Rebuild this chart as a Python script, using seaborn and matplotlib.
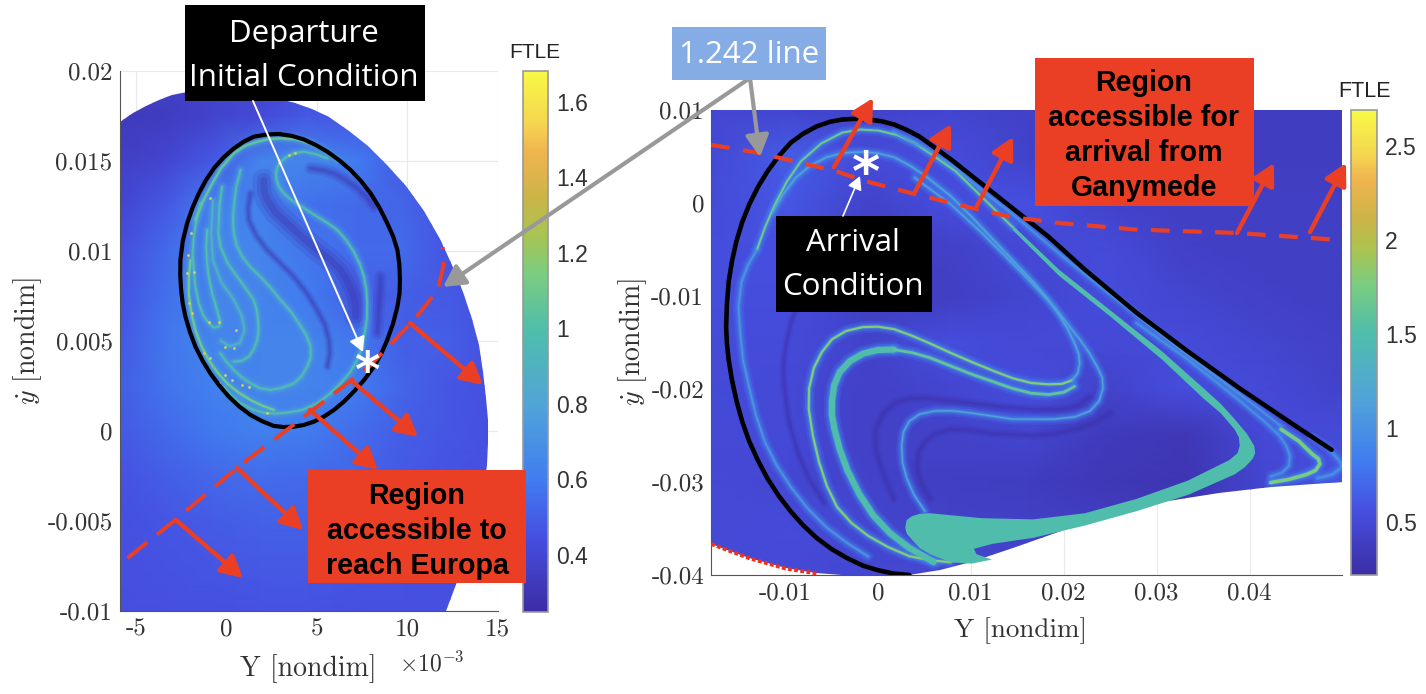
import numpy as np
import seaborn as sns
import matplotlib
matplotlib.use('Agg')
import matplotlib.pyplot as plt
from matplotlib.colors import LinearSegmentedColormap, Normalize
from matplotlib.patches import Polygon, Rectangle

# all curve values are in units of 1e-3 of the axis quantity
# ---- left panel ----
left_grid_x = [-5.92, -3.3, -0.7, 1.9, 4.5, 7.2, 9.8, 12.4, 15.0]
left_grid_y = [20, 17.5, 15, 12.5, 10, 7.5, 5, 2.5, 0, -2.5, -5, -7.5, -10]
left_field = [
    [.36, .36, .38, .40, .42, .42, .42, .42, .42],
    [.33, .34, .38, .42, .48, .46, .44, .44, .44],
    [.36, .40, .48, .64, .64, .60, .48, .44, .44],
    [.40, .48, .62, .62, .56, .54, .52, .46, .44],
    [.44, .54, .64, .64, .58, .54, .54, .46, .44],
    [.46, .56, .64, .64, .60, .50, .50, .48, .44],
    [.48, .58, .64, .64, .64, .58, .50, .50, .44],
    [.50, .57, .62, .64, .64, .60, .52, .47, .45],
    [.48, .54, .59, .62, .60, .55, .50, .47, .45],
    [.46, .50, .53, .55, .54, .52, .48, .46, .45],
    [.45, .47, .49, .51, .51, .49, .47, .46, .45],
    [.45, .46, .47, .48, .48, .47, .46, .45, .45],
    [.44, .45, .45, .46, .46, .45, .45, .45, .45],
]
left_domain_x = [-5.92, -5.92, -5.2, -4.47, -3.75, -2.99, -2.2, -1.4, -.6, .19, 1.15, 2.1, 2.95, 3.79, 4.75, 5.7, 6.8, 7.82, 8.9, 9.94, 10.93, 11.84, 12.5, 13.11, 13.58, 13.96, 14.2, 14.39, 14.48, 14.49, 14.42, 14.28, 13.96, 13.54, 12.92, 12.16, -5.92]
left_domain_y = [-10, 17.17, 17.65, 18.08, 18.4, 18.65, 18.82, 18.9, 18.93, 18.9, 18.82, 18.65, 18.47, 18.23, 17.88, 17.42, 16.68, 15.82, 14.78, 13.61, 12.2, 10.66, 9.2, 7.71, 6.25, 4.77, 3.3, 1.82, .6, -.64, -1.87, -3.1, -4.55, -6.04, -7.95, -10, -10]

left_orbit_x = [2.9, 2.2, 1.51, .95, .41, -.16, -.7, -1.14, -1.53, -1.88, -2.18, -2.42, -2.55, -2.56, -2.51, -2.42, -2.27, -2.02, -1.72, -1.33, -.89, -.4, .13, .71, 1.33, 1.96, 2.62, 3.17, 3.73, 4.3, 4.84, 5.41, 5.95, 6.52, 7.05, 7.63, 8.16, 8.57, 8.9, 9.22, 9.46, 9.58, 9.6, 9.57, 9.46, 9.22, 8.9, 8.47, 7.98, 7.45, 6.87, 6.24, 5.58, 4.94, 4.28, 3.6, 2.9]
left_orbit_y = [16.5, 16.47, 16.35, 16.07, 15.7, 15.2, 14.59, 13.93, 13.2, 12.4, 11.54, 10.54, 9.5, 8.66, 7.83, 7.08, 6.35, 5.5, 4.69, 3.92, 3.2, 2.53, 1.91, 1.36, .89, .55, .28, .22, .24, .34, .52, .81, 1.17, 1.65, 2.19, 2.85, 3.57, 4.3, 5.06, 5.97, 6.91, 7.65, 8.39, 9.24, 10.06, 10.82, 11.54, 12.4, 13.2, 13.88, 14.5, 15.04, 15.52, 15.89, 16.2, 16.4, 16.5]

left_ridges = [
    # x, y, FTLE value, core width
    ([5.58, 4.95, 4.28, 3.8, 3.36, 3.04, 2.84, 2.74, 2.77, 2.92, 3.18, 3.55, 4.01, 4.5, 5.02, 5.6, 6.13, 6.63, 7.05, 7.37, 7.61, 7.74, 7.79, 7.77, 7.65, 7.5, 7.24, 6.83, 6.32, 5.7, 5.02, 4.22, 3.36, 2.7, 2.07, 1.4, .78, .28, -.15],
     [15.15, 15.38, 15.52, 15.45, 15.24, 15.0, 14.69, 14.3, 13.94, 13.55, 13.2, 12.87, 12.56, 12.24, 11.91, 11.55, 11.17, 10.6, 9.96, 9.3, 8.57, 7.85, 7.09, 6.25, 5.43, 4.66, 3.94, 3.25, 2.65, 2.05, 1.54, 1.18, 1.02, .97, 1.02, 1.22, 1.54, 1.95, 2.46], .98, 1.4),
    ([.78, .53, .41, .36, .41, .57, .87, 1.33, 1.88, 2.45, 2.99, 3.55, 4.01, 4.42, 4.65, 4.66, 4.47, 4.15, 3.73, 3.1, 2.44, 1.85, 1.33, .85, .41, 0, -.33],
     [14.5, 13.5, 12.46, 11.7, 10.98, 10.3, 9.69, 9.1, 8.57, 7.95, 7.28, 6.65, 5.98, 5.33, 4.69, 4.1, 3.57, 3.03, 2.65, 2.4, 2.28, 2.38, 2.65, 2.98, 3.39, 3.85, 4.31], .95, 1.5),
    ([-.24, -.38, -.42, -.45, -.33, .05, .59, 1.05, 1.51, 1.68, 1.74, 1.78, 1.7, 1.52, 1.24, .85, .41],
     [13.57, 12.6, 11.72, 11, 10.24, 9.35, 8.57, 7.95, 7.28, 6.72, 6.17, 5.6, 5.06, 4.55, 4.13, 3.9, 3.85], .98, 1.4),
    ([-1.44, -1.66, -1.81, -1.88, -1.81, -1.72, -1.53, -1.3, -.98, -.7, -.42, -.33, -.42, -.6, -.79, -.97, -1.07, -1.12, -1.07],
     [12.65, 11.7, 10.8, 9.85, 8.94, 8, 7.09, 6.45, 5.98, 5.75, 5.8, 6.05, 6.35, 7, 7.65, 8.5, 9.31, 10.25, 11.17], 1.0, 1.3),
    ([-.75, -.85, -.75, -.3, .4, .85, 1.0, .75, .2, -.3],
     [12.8, 11, 9.5, 8.3, 7.3, 6.4, 5.6, 4.9, 4.7, 5], .9, 1.1),
    ([-1.99, -2.08, -2.09, -1.95, -1.72, -1.4, -.98, -.5, .04, .65, 1.33, 2, 2.62],
     [9.5, 8.55, 7.65, 6.6, 5.61, 4.75, 3.94, 3.25, 2.65, 2.15, 1.72, 1.4, 1.17], 1.1, 1.6),
    ([-1.72, -1.33, -.89, -.3, .41, 1.05, 1.7, 2.35, 2.99, 3.85, 4.65, 5.4, 6.13],
     [11.72, 12.7, 13.57, 14.6, 15.43, 15.85, 16.07, 16.22, 16.26, 16.2, 15.98, 15.6, 15.06], 1.05, 1.6),
]
left_dark = [
    ([4.65, 5.3, 5.95, 6.6, 7.24, 7.75, 8.16], [14.59, 14.5, 14.31, 13.95, 13.48, 13, 12.46], 3.0),
    ([2.07, 2.08, 2.25, 2.7, 3.36, 4.15, 5.02, 5.7, 6.32, 6.75, 7.05, 7.15, 7.15], [13.94, 13.35, 12.83, 12.15, 11.54, 10.8, 10.06, 9.55, 8.94, 8.2, 7.46, 6.9, 6.35], 6),
    ([1.33, 1.2, 1.24, 1.65, 2.25, 2.95, 3.73, 4.45, 5.02, 5.45, 5.67, 5.72, 5.58], [13.2, 12.4, 11.72, 10.85, 10.06, 9.35, 8.57, 7.65, 6.72, 5.9, 5.06, 4.3, 3.57], 2.0),
    ([8.53, 8.5, 8.44, 8.35], [8.57, 7.7, 6.91, 5.43], 3),
]
left_speck_x = [-.89, -1.99, -2.18, -2.09, -1.9, -.98, -.42, .5, .41, -.06, -.89, -.06, .31, 1.24, .87, -.42, 2.25, 3.45, 3.82, 2.9, -2.14, -1.77, -1.26]
left_speck_y = [12.93, 10.98, 8.76, 7.09, 6.54, 6.07, 6.07, 5.61, 4.59, 4.69, 4.04, 3.11, 2.83, 2.46, 2.56, 2.65, 1.02, 15.33, 15.43, 14.87, 9.78, 8.85, 4.31]
left_boundary_x = [-5.48, -2.83, .78, 4.65, 7.98, 10.47, 11.69, 12.02, 11.97]
left_boundary_y = [-7.06, -4.94, -1.89, 1.06, 3.67, 6.28, 7.83, 9.22, 10.22]

left_xticks = [-5, 0, 5, 10, 15]
left_xlabels = ['-5', '0', '5', '10', '15']
left_yticks = [-10, -5, 0, 5, 10, 15, 20]
left_ylabels = ['-0.01', '-0.005', '0', '0.005', '0.01', '0.015', '0.02']
left_cbar_ticks = [.4, .6, .8, 1, 1.2, 1.4, 1.6]
left_cbar_labels = ['0.4', '0.6', '0.8', '1', '1.2', '1.4', '1.6']

# ---- right panel ----
right_grid_x = [-18, -9.5, -1, 7.5, 16, 24.5, 33, 41.5, 50]
right_grid_y = [10, 5, 0, -5, -10, -15, -20, -25, -30, -35, -40]
right_field = [
    [.48, .46, .44, .46, .42, .40, .38, .38, .38],
    [.50, .64, .52, .54, .44, .40, .38, .38, .38],
    [.52, .60, .44, .54, .56, .44, .40, .40, .40],
    [.54, .56, .42, .42, .50, .52, .42, .40, .40],
    [.54, .54, .40, .40, .46, .54, .46, .42, .40],
    [.52, .52, .44, .54, .50, .50, .52, .46, .42],
    [.52, .50, .42, .46, .54, .44, .54, .50, .44],
    [.50, .50, .42, .44, .46, .36, .32, .50, .52],
    [.50, .48, .44, .40, .38, .33, .30, .46, .60],
    [.50, .52, .46, .44, .42, .40, .38, .44, .50],
    [.50, .50, .48, .48, .46, .46, .46, .46, .46],
]
right_domain_x = [-17.96, -17.94, -13.83, -9.94, -6.61, -3.83, 3.39, 6.72, 10.06, 14.5, 20.06, 25.61, 28.4, 31.17, 36.72, 42.28, 50, 50, -17.96]
right_domain_y = [10, -36.66, -38.2, -39.3, -39.83, -40, -40, -39.5, -38.64, -37.1, -35.12, -33.36, -32.6, -32.04, -31.16, -30.5, -29.97, 10, 10]

right_orbit_x = [3.39, 1.7, .06, -1.6, -3.28, -5.0, -6.61, -8.05, -9.39, -10.7, -11.89, -12.9, -13.83, -14.6, -15.22, -15.7, -16.06, -16.25, -16.33, -16.25, -16.06, -15.7, -15.22, -14.6, -13.83, -12.92, -11.89, -10.7, -9.39, -8.05, -6.61, -5.2, -3.83, -2.45, -1.06, .35, 1.72, 3.12, 4.5, 7.83, 11.17, 14.5, 18.39, 22.28, 27.83, 33.39, 38.94, 44.5, 48.83]
right_orbit_y = [-40, -39.85, -39.5, -39.0, -38.2, -37.2, -36, -34.65, -33.15, -31.45, -29.6, -27.7, -25.66, -23.5, -21.26, -19.05, -16.86, -15.1, -13.34, -10.9, -8.49, -6.25, -4.09, -2.05, -.13, 1.7, 3.39, 5.0, 6.47, 7.45, 8.23, 8.72, 8.98, 9.05, 8.98, 8.8, 8.45, 7.85, 7.13, 4.71, 2.07, -.57, -3.65, -7.17, -11.8, -15.98, -19.94, -23.68, -26.54]

right_band_x = [14.5, 19.5, 25.06, 30.61, 35.06, 36.9, 38.39, 39.7, 40.5, 40.6, 40.33, 39.5, 38.39, 33.39, 27.83, 22.28, 16.72, 12.28, 10.33, 10.61, 12.28, 10.06, 7.83, 5.61, 4.5, 3.67, 3.1, 2.94, 3.1, 3.67, 4.5, 5.61, 11.17, 16.72, 22.28, 27.83, 33.39, 37.83, 38.7, 38.94, 38.85, 38.39, 36.9, 35.06, 30.61, 25.06, 19.5, 14.5]
right_band_y = [-2.4, -7.17, -11.58, -15.98, -19.94, -21.6, -23.24, -24.8, -26.1, -26.9, -27.51, -28.4, -29.18, -31.38, -33.14, -34.68, -36, -36.66, -37.19, -37.76, -38.34, -38.78, -38.64, -37.76, -37.1, -36.22, -35.55, -34.9, -34.1, -33.67, -33.42, -33.36, -33.89, -34.02, -33.36, -31.82, -29.84, -27.64, -26.9, -26.1, -25.2, -24.34, -22.6, -21.04, -16.86, -12.24, -7.83, -2.9]

right_ridges = [
    # top green ridge, runs into the thick band
    ([-13, -12.1, -11.06, -9.8, -8.28, -6.1, -3.83, -1.9, .06, 2.1, 3.94, 6.1, 8.39, 11.4, 14.5],
     [-4.97, -2.5, -.13, 2.3, 4.49, 6.4, 7.57, 7.9, 7.79, 7.3, 6.47, 5.0, 3.39, .45, -2.6], 1.7, 1.4),
    # thin ridge just inside the black curve
    ([1.72, 5, 8.39, 11.4, 14.5, 20.06, 25.61, 31.17, 36.72, 40.2, 43.39],
     [7.6, 5.9, 3.7, 1.2, -1.2, -5.9, -10.3, -14.7, -18.9, -21.5, -24.0], 1.0, .9),
    # green at the tip
    ([43.39, 45.3, 46.72, 47.4, 47.56, 47.1, 46.17, 44.3, 42.28],
     [-24.34, -25.6, -26.98, -27.5, -28.08, -28.75, -29.18, -29.7, -30.06], 1.75, 2.6),
    ([-13, -14, -14.67, -15, -14.83, -14.5, -13.83, -13.1, -12.17, -10.9, -9.39, -7.6, -5.5, -3.4, -1.06],
     [-4.97, -6.7, -8.49, -11.1, -13.78, -16.9, -19.94, -22.9, -25.66, -28.2, -30.5, -32.8, -34.9, -36.5, -38], 1.05, .9),
    ([7.83, 5.6, 3.39, 1.1, -1.06, -2.85, -4.39, -5.5, -6.33, -7, -7.44, -7.4, -6.89, -6.05, -4.94, -3.4, -1.61, 0, 1.72, 3.6, 5.61, 7.8, 10.06, 12.3, 14.5, 16.5, 18.39, 19.8, 20.89],
     [-38.64, -38.4, -37.98, -37, -35.78, -34.4, -32.7, -30.4, -27.86, -25, -22.14, -19.9, -17.74, -16.05, -14.66, -13.75, -13.34, -13.3, -13.56, -14.25, -15.1, -16.1, -17.08, -18, -18.84, -19.35, -19.5, -19.45, -19.06], 1.8, 1.6),
    ([20.89, 21.5, 21.72, 21.6, 21.17, 20.4, 19.5, 18.2, 16.72, 13.39, 10.06, 7.83, 5.06, 3.4, 1.72, 0, -1.61, -3.6, -5.5, -7.3, -8.83, -10.2, -11.33],
     [-19.06, -18.3, -17.3, -16.2, -15.1, -13.5, -12.02, -10.2, -8.49, -4.97, -1.45, .75, 2.95, 4.05, 4.93, 5.35, 5.5, 5.4, 4.93, 4, 2.73, .95, -1.01], 1.15, 1.1),
    ([6, 3.39, 1.3, -.5, -2, -3.28, -4.1, -4.67, -4.95, -4.94, -4.7, -4.11, -3, -1.61, 0, 1.72],
     [-38.6, -37.1, -35.5, -33.58, -31.3, -28.74, -26.5, -24.34, -22.8, -21.26, -19.6, -18.18, -17, -16.2, -15.8, -15.76], 1.5, 4.4),
    ([1.72, 3.7, 5.61, 10.06, 14.5, 16.5, 18.39, 20, 21.17],
     [-15.76, -16.1, -16.64, -18.4, -19.94, -20.45, -20.6, -20.35, -19.72], 1.6, 2.0),
    ([5.06, 3.9, 3.11, 2.65, 2.56, 2.75, 3.39, 4.5, 6.17, 8.1, 10.06, 14.5, 18.94, 21.2, 22.83, 23.8, 24.22, 24.15, 23.67, 22.8, 21.72, 18.94, 15.61, 11.17, 7.83, 3.94],
     [-33.14, -31.4, -29.62, -27.9, -26.1, -24.6, -23.46, -22.7, -22.36, -22.35, -22.58, -23.24, -23.24, -23, -22.36, -21.3, -19.94, -18.8, -17.74, -16.2, -14.66, -11.14, -7.61, -3.21, -.13, 2.73], 1.15, 1.0),
    ([27.83, 33.39, 38.94, 41.6, 43.2, 43.94, 44.35, 44.22, 43.5, 42.28],
     [-12.9, -16.86, -21.26, -23.5, -25, -26.1, -27.2, -28.3, -29, -29.4], 1.0, .9),
    ([46.72, 48.4, 49.61, 49.9, 49.78, 48.9, 47.28],
     [-25.2, -26.3, -27.64, -28.1, -28.52, -29.2, -29.6], 1.0, 1.1),
]
right_dark = [
    ([5.61, 4.6, 4.22, 4.4, 5.06, 6.2, 7.83, 10, 12.28, 16.72, 19.1, 21.17, 23.3, 25.06], [-31.82, -30, -28.3, -26.8, -25.66, -24.8, -24.34, -24.45, -24.78, -25, -24.8, -24.34, -23.6, -22.58], 2.2),
    ([1.72, .6, -.22, -.25, .61, 1.8, 3.39, 5.5, 7.83, 13.39, 17, 20.06, 21.7, 22.83], [-31.82, -29.2, -26.54, -24.4, -22.58, -21.5, -21.04, -21, -21.26, -21.92, -22.2, -22.14, -21.7, -20.82], 2.2),
    ([-5.78, -7.4, -8.56, -9.6, -10.06, -10.2, -9.94, -9.4, -8.56], [-32.26, -29.7, -26.98, -23.4, -19.94, -17.7, -15.54, -13, -10.7], 1.8),
]
right_boundary_x = [-17.94, -12.72, -8.56, -4.67, -1.61, 3.94, 10.61, 14.5, 20.06, 27.83, 38.39, 49.5]
right_boundary_y = [6.25, 5.37, 4.36, 3.48, 2.42, .97, -.66, -1.54, -2.2, -2.86, -3.21, -3.96]
right_edge_x = [-17.94, -13.83, -9.94, -6.61]
right_edge_y = [-36.66, -38.2, -39.3, -39.83]

right_xticks = [-10, 0, 10, 20, 30, 40]
right_xlabels = ['-0.01', '0', '0.01', '0.02', '0.03', '0.04']
right_yticks = [-40, -30, -20, -10, 0, 10]
right_ylabels = ['-0.04', '-0.03', '-0.02', '-0.01', '0', '0.01']
right_cbar_ticks = [.5, 1, 1.5, 2, 2.5]
right_cbar_labels = ['0.5', '1', '1.5', '2', '2.5']

# annotation arrows, figure pixels: x0, y0, x1, y1
left_arrows = [(176, 520, 243, 578), (237, 468, 303, 530), (310, 410, 378, 470), (353, 382, 418, 437), (410, 323, 483, 385)]
right_arrows = [(834, 167, 873, 98), (915, 192, 951, 124), (977, 206, 1013, 137), (1237, 233, 1274, 163), (1310, 232, 1346, 163)]

RED = '#ea3f24'
W, H = 1426, 694
# colours sampled from the reference colour bar
parula = LinearSegmentedColormap.from_list('parula_soft', [
    (0.0, '#3c2da5'), (0.14, '#4650e1'), (0.245, '#417df0'), (0.385, '#50a5d7'),
    (0.524, '#50beaa'), (0.63, '#7dcd7d'), (0.70, '#aac350'), (0.77, '#cdb446'),
    (0.852, '#f0b450'), (0.908, '#f5d750'), (1.0, '#f8f846')])

sns.set_theme(style='white')
plt.rcParams['mathtext.fontset'] = 'cm'
plt.rcParams['axes.unicode_minus'] = False
plt.rcParams['axes.formatter.use_mathtext'] = True


def px_axes(x0, y0, x1, y1):
    return fig.add_axes([x0 / W, 1 - y1 / H, (x1 - x0) / W, (y1 - y0) / H])


def line(ax, xs, ys, **kws):
    sns.lineplot(x=xs, y=ys, sort=False, estimator=None, errorbar=None, legend=False, ax=ax, **kws)


def panel(ax, cax, gx, gy, field, dom_x, dom_y, clim, ridges, dark, xlim, ylim, glow):
    norm = Normalize(*clim)
    ax.set_facecolor('white')
    ax.grid(True, color='#e9e9e9', lw=0.8)
    ax.set_axisbelow(True)
    mesh = ax.pcolormesh(gx, gy, np.array(field), cmap=parula, norm=norm, shading='gouraud', zorder=1.5)
    clip = Polygon(np.column_stack([dom_x, dom_y]), transform=ax.transData)
    mesh.set_clip_path(clip)
    before = len(ax.lines)
    dark_col = parula(norm(clim[0] + 0.03))
    for xs, ys, width in dark:
        line(ax, xs, ys, color=dark_col, linewidth=width * 2.6 + 1, alpha=0.16, zorder=2)
        line(ax, xs, ys, color=dark_col, linewidth=width * 1.6 + .5, alpha=0.22, zorder=2)
        line(ax, xs, ys, color=dark_col, linewidth=width * .8, alpha=0.3, zorder=2)
    for xs, ys, val, width in ridges:
        line(ax, xs, ys, color=parula(norm(glow)), linewidth=width + 7, alpha=0.22, zorder=2.2)
        line(ax, xs, ys, color=parula(norm(glow * 1.08)), linewidth=width + 4, alpha=0.32, zorder=2.3)
        line(ax, xs, ys, color=parula(norm(glow * 1.2)), linewidth=width + 1.5, alpha=0.5, zorder=2.4)
        line(ax, xs, ys, color=parula(norm(val)), linewidth=width, zorder=2.5)
    for ln in ax.lines[before:]:
        ln.set_clip_path(clip)
    ax.set_xlim(*xlim)
    ax.set_ylim(*ylim)
    for s in ['top', 'right']:
        ax.spines[s].set_visible(False)
    for s in ['left', 'bottom']:
        ax.spines[s].set_color('#555555')
        ax.spines[s].set_linewidth(0.8)
    ax.tick_params(direction='in', length=4, width=0.7, color='#666666', labelcolor='#333333', pad=5)
    cb = fig.colorbar(mesh, cax=cax)
    cb.outline.set_edgecolor('#999999')
    cb.outline.set_linewidth(1.2)
    cax.tick_params(direction='in', length=5, width=0.7, color='#555555', labelcolor='#333333', pad=6, labelsize=16.5)
    return norm


def tick_text(ax, xticks, xlabels, yticks, ylabels):
    ax.set_xticks(xticks)
    ax.set_xticklabels(xlabels, family='cmr10', fontsize=18)
    ax.set_yticks(yticks)
    ax.set_yticklabels(ylabels, family='cmr10', fontsize=18)


fig = plt.figure(figsize=(W / 100, H / 100), dpi=100, facecolor='white')

ax_l = px_axes(119.5, 71, 497.5, 611)
cax_l = px_axes(523, 71, 548, 612)
panel(ax_l, cax_l, left_grid_x, left_grid_y, left_field, left_domain_x, left_domain_y, (.249, 1.682),
      left_ridges, left_dark, (-5.92, 15), (-10, 20), 0.72)
tick_text(ax_l, left_xticks, left_xlabels, left_yticks, left_ylabels)
sns.scatterplot(x=left_speck_x, y=left_speck_y, color='#d9cf55', s=4, linewidth=0, legend=False, ax=ax_l, zorder=2.8)
line(ax_l, left_orbit_x, left_orbit_y, color='black', linewidth=3.0, zorder=3)
line(ax_l, left_boundary_x, left_boundary_y, color=RED, linewidth=2.8, linestyle=(0, (6.5, 3.2)), zorder=3.5)
cax_l.set_yticks(left_cbar_ticks, left_cbar_labels, family='Liberation Sans')
ax_l.set_xlabel('Y [nondim]', family='cmr10', fontsize=20, color='#333333')
ax_l.xaxis.set_label_coords(0.5, -0.08)
ax_l.set_ylabel(r'$\dot{y}$ [nondim]', family='cmr10', fontsize=20, color='#333333')
ax_l.yaxis.set_label_coords(-0.2, 0.5)

ax_r = px_axes(711, 110, 1342.5, 575)
cax_r = px_axes(1351, 110, 1377, 575)
norm_r = panel(ax_r, cax_r, right_grid_x, right_grid_y, right_field, right_domain_x, right_domain_y, (.218, 2.69),
               right_ridges, right_dark, (-17.96, 50), (-40, 10), 0.85)
tick_text(ax_r, right_xticks, right_xlabels, right_yticks, right_ylabels)
ax_r.fill(right_band_x, right_band_y, color=parula(norm_r(1.5)), zorder=2.6, lw=0)
line(ax_r, right_orbit_x, right_orbit_y, color='black', linewidth=3.3, zorder=3)
line(ax_r, right_boundary_x, right_boundary_y, color=RED, linewidth=3.0, linestyle=(0, (4.5, 3.2)), zorder=3.5)
line(ax_r, right_edge_x, right_edge_y, color='#f0301c', linewidth=2.8, linestyle=(0, (1, 0.6)), zorder=3.5)
cax_r.set_yticks(right_cbar_ticks, right_cbar_labels, family='Liberation Sans')
ax_r.set_xlabel('Y [nondim]', family='cmr10', fontsize=19.5, color='#333333')
ax_r.xaxis.set_label_coords(0.49, -0.09)
ax_r.set_ylabel(r'$\dot{y}$ [nondim]', family='cmr10', fontsize=20, color='#333333')
ax_r.yaxis.set_label_coords(-0.098, 0.5)

# overlay in figure pixels for the slide annotations
ov = fig.add_axes([0, 0, 1, 1], zorder=10)
ov.set_xlim(0, W)
ov.set_ylim(H, 0)
ov.axis('off')
ov.patch.set_alpha(0)


def box(x0, y0, x1, y1, color):
    ov.add_patch(Rectangle((x0, y0), x1 - x0, y1 - y0, color=color, lw=0, zorder=6))


def arrow(x0, y0, x1, y1, color, lw, head=14, z=5):
    ov.annotate('', xy=(x1, y1), xytext=(x0, y0), zorder=z,
                arrowprops=dict(arrowstyle=f'-|>,head_length={head / 14:.2f},head_width={head / 26:.2f}',
                                color=color, lw=lw, shrinkA=0, shrinkB=0, mutation_scale=14))


for a in left_arrows + right_arrows:
    arrow(*a, RED, 3.2, head=13)
arrow(750, 78, 443, 287, '#999999', 3, head=13)
arrow(750, 78, 760, 157, '#999999', 3, head=13)

box(185, 5, 425, 101, 'black')
box(308, 470, 526, 583, RED)
box(672, 27, 826, 80, '#86ace6')
box(1035, 58, 1254, 206, RED)
box(776, 216, 932, 312, 'black')

sans = 'Open Sans'
for txt, x, y in [('Departure', 304, 34), ('Initial Condition', 304, 78), ('Arrival', 853, 243), ('Condition', 853, 287)]:
    ov.text(x, y, txt, color='white', family=sans, fontsize=22.5, ha='center', va='center', zorder=7)
ov.text(749, 55, '1.242 line', color='white', family=sans, fontsize=22.5, ha='center', va='center', zorder=7)
for txt, x, y in [('Region', 417, 496), ('accessible to', 417, 531), ('reach Europa', 417, 566),
                  ('Region', 1144, 83), ('accessible for', 1144, 118), ('arrival from', 1144, 153), ('Ganymede', 1144, 188)]:
    ov.text(x, y, txt, color='black', family='Liberation Sans', weight='bold', fontsize=20.6, ha='center', va='center', zorder=7)
ov.text(535, 52, 'FTLE', family='Liberation Sans', fontsize=15, color='#222222', ha='center', va='center')
ov.text(1364, 91, 'FTLE', family='Liberation Sans', fontsize=15.5, color='#222222', ha='center', va='center')
ov.text(432, 664, r'$\times 10^{-3}$', fontsize=17, color='#333333', ha='center', va='center')

arrow(253, 101, 363, 352, 'white', 1.4, head=9, z=8)
arrow(843, 216, 860, 176, 'white', 1.2, head=8, z=8)
ov.text(368, 373, '*', color='white', family='DejaVu Sans', weight='bold', fontsize=35, ha='center', va='center', zorder=9)
ov.text(866, 175, '*', color='white', family='DejaVu Sans', weight='bold', fontsize=39, ha='center', va='center', zorder=9)

fig.savefig('out.png', dpi=100)
